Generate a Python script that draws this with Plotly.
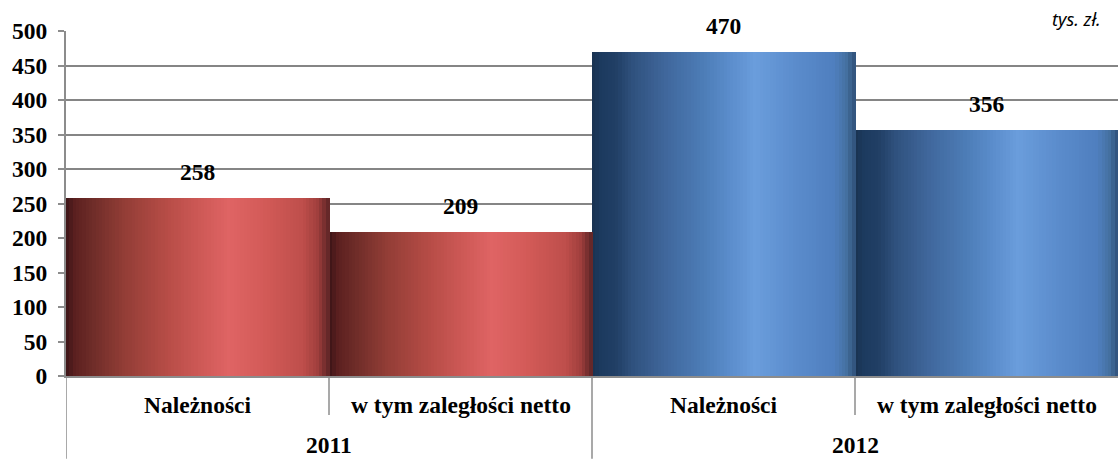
import plotly.graph_objects as go
import numpy as np

# ---- data ----
years = ["2011", "2012"]
categories = ["Należności", "w tym zaległości netto", "Należności", "w tym zaległości netto"]
bar_year = ["2011", "2011", "2012", "2012"]
values = [258, 209, 470, 356]
y_ticks = [0, 50, 100, 150, 200, 250, 300, 350, 400, 450, 500]
unit_label = "tys. zł."

# ---- style ----
red_stops = [(0.00, "#3a1416"), (0.03, "#5a1f1f"), (0.10, "#6e2c28"), (0.22, "#923d36"),
             (0.38, "#b64c46"), (0.50, "#cc5855"), (0.62, "#df6464"), (0.76, "#d25a57"),
             (0.90, "#be4e4b"), (0.96, "#9e3e3c"), (1.00, "#5a2426")]
blue_stops = [(0.00, "#1a3350"), (0.03, "#1c3a5e"), (0.09, "#213f65"), (0.16, "#30527f"),
              (0.28, "#40679c"), (0.42, "#4c7cb6"), (0.52, "#5a8ccb"), (0.62, "#6a9ddc"),
              (0.78, "#5a8bcb"), (0.92, "#4f7fbf"), (0.97, "#44709f"), (1.00, "#2e4f78")]
year_stops = {"2011": red_stops, "2012": blue_stops}


def hex2rgb(h):
    h = h.lstrip("#")
    return np.array([int(h[i:i + 2], 16) for i in (0, 2, 4)], dtype=float)


def grad(stops, t):
    ps = [p for p, _ in stops]
    cs = np.array([hex2rgb(c) for _, c in stops])
    rgb = [np.interp(t, ps, cs[:, k]) for k in range(3)]
    return "rgb(%d,%d,%d)" % tuple(int(round(v)) for v in rgb)


N = 80
xs = list(range(len(values)))
fig = go.Figure()
for j in range(N):
    t = (j + 0.5) / N
    cols = [grad(year_stops[yr], t) for yr in bar_year]
    fig.add_trace(go.Bar(
        x=xs, y=values, width=1.0 / N * 1.3, offset=-0.5 + j / N,
        marker=dict(color=cols, line=dict(width=0)),
        hoverinfo="skip", showlegend=False,
    ))

serif = "Liberation Serif"
grey = "#8c8c8c"
fsize = 23.5

annotations = []
# data labels
for x, v in zip(xs, values):
    annotations.append(dict(x=x, y=v, xref="x", yref="y", text="<b>%d</b>" % v,
                            showarrow=False, yshift=26, yanchor="middle",
                            font=dict(family=serif, size=fsize, color="black")))
# category labels
for x, c in zip(xs, categories):
    annotations.append(dict(x=x, y=-0.084, xref="x", yref="paper", text="<b>%s</b>" % c,
                            showarrow=False, yanchor="middle",
                            font=dict(family=serif, size=fsize, color="black")))
# year labels
for i, yr in enumerate(years):
    idx = [k for k, b in enumerate(bar_year) if b == yr]
    annotations.append(dict(x=(idx[0] + idx[-1]) / 2, y=-0.200, xref="x", yref="paper",
                            text="<b>%s</b>" % yr, showarrow=False, yanchor="middle",
                            font=dict(family=serif, size=fsize, color="black")))
annotations.append(dict(x=1, y=1.0, xref="paper", yref="paper", text="<i>%s</i>" % unit_label,
                        showarrow=False, xanchor="right", yanchor="bottom", xshift=-15,
                        yshift=-2, font=dict(family="Noto Sans", size=18, color="black")))

shapes = []
for k in range(len(values)):
    left = k - 0.5
    group_start = k == 0 or bar_year[k] != bar_year[k - 1]
    shapes.append(dict(type="line", xref="x", yref="paper", x0=left, x1=left,
                       y0=0, y1=-0.24 if group_start else -0.113,
                       line=dict(color=grey, width=1.5)))

fig.update_layout(
    width=1118, height=459,
    margin=dict(l=66, r=0, t=31, b=83),
    paper_bgcolor="white", plot_bgcolor="white",
    barmode="overlay", bargap=0,
    annotations=annotations, shapes=shapes,
    xaxis=dict(range=[-0.5, len(values) - 0.5], showticklabels=False, showgrid=False,
               zeroline=False, showline=True, linecolor=grey, linewidth=2, ticks=""),
    yaxis=dict(range=[0, 500], tickvals=y_ticks, showgrid=True, gridcolor="#858585", gridwidth=1.8,
               zeroline=False, showline=True, linecolor=grey, linewidth=2,
               ticks="outside", ticklen=6, tickcolor=grey, tickwidth=1.5,
               ticklabelstandoff=6,
               tickfont=dict(family=serif, size=fsize, color="black", weight="bold")),
)

fig.write_html("out.html", config={"displayModeBar": False},
               post_script="document.body.style.margin='0';document.body.style.overflow='hidden';")
